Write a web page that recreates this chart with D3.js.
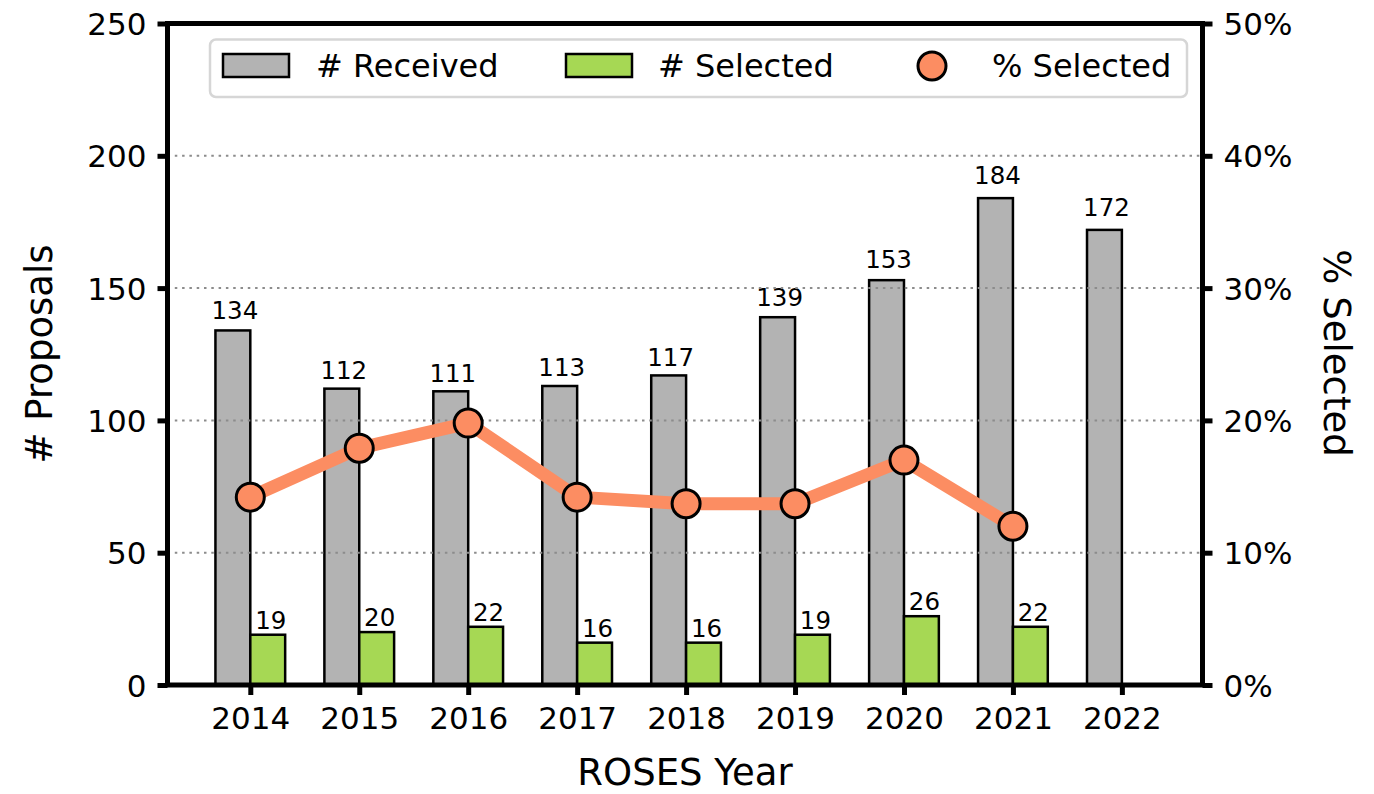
<!DOCTYPE html>
<html>
<head>
<meta charset="utf-8">
<script src="https://cdn.jsdelivr.net/npm/d3@7"></script>
<style>
  html, body { margin: 0; padding: 0; background: #fff; }
  svg { display: block; font-family: "DejaVu Sans", sans-serif; }
</style>
</head>
<body>
<svg id="chart" width="1374" height="794"></svg>
<script>
// ---- data ----
const years = ["2014", "2015", "2016", "2017", "2018", "2019", "2020", "2021", "2022"];
const received = [134, 112, 111, 113, 117, 139, 153, 184, 172];
const selected = [19, 20, 22, 16, 16, 19, 26, 22, null];
const pctSelected = [14.2, 17.9, 19.8, 14.2, 13.7, 13.7, 17.0, 12.0];
const leftTicks = [0, 50, 100, 150, 200, 250];
const rightTicks = [0, 10, 20, 30, 40, 50];
const gridTicks = [50, 100, 150, 200];
const legendLabels = ["# Received", "# Selected", "% Selected"];

// ---- colours ----
const cGrey = "#b3b3b3", cGreen = "#a6d854", cOrange = "#fc8d62";

const svg = d3.select("#chart");
const L = 167.5, R = 1202.5, T = 23.5, B = 685;

const x = d3.scaleLinear().domain([-0.76, 8.74]).range([L, R]);
const y = d3.scaleLinear().domain([0, 250]).range([B, T]);
const yr = d3.scaleLinear().domain([0, 50]).range([B, T]);
const bw = 0.32;

// bars
const g = svg.append("g");
g.selectAll("rect.rec").data(received).join("rect")
  .attr("x", (d, i) => x(i - bw))
  .attr("width", x(bw) - x(0))
  .attr("y", d => y(d))
  .attr("height", d => y(0) - y(d))
  .attr("fill", cGrey).attr("stroke", "#000").attr("stroke-width", 2.5);

g.selectAll("rect.sel").data(selected.map((v, i) => ({v, i})).filter(d => d.v != null)).join("rect")
  .attr("x", d => x(d.i))
  .attr("width", x(bw) - x(0))
  .attr("y", d => y(d.v))
  .attr("height", d => y(0) - y(d.v))
  .attr("fill", cGreen).attr("stroke", "#000").attr("stroke-width", 2.5);

// bar labels
g.selectAll("text.rl").data(received).join("text")
  .attr("x", (d, i) => x(i - bw / 2) + 2)
  .attr("y", d => y(d) - (1.6 + 0.07 * d))
  .attr("text-anchor", "middle").attr("font-size", 24.5).attr("fill", "#000")
  .text(d => d);
g.selectAll("text.sl").data(selected.map((v, i) => ({v, i})).filter(d => d.v != null)).join("text")
  .attr("x", d => x(d.i + bw / 2) + 3)
  .attr("y", d => y(d.v) - 6)
  .attr("text-anchor", "middle").attr("font-size", 24.5).attr("fill", "#000")
  .text(d => d.v);

// grid
svg.append("g").selectAll("line").data(gridTicks).join("line")
  .attr("x1", L).attr("x2", R)
  .attr("y1", d => y(d)).attr("y2", d => y(d))
  .attr("stroke", "#8c8c8c").attr("stroke-width", 2)
  .attr("stroke-dasharray", "2.5,4.8");

// percent line
const line = d3.line().x((d, i) => x(i)).y(d => yr(d));
svg.append("path").datum(pctSelected)
  .attr("d", line).attr("fill", "none")
  .attr("stroke", cOrange).attr("stroke-width", 13).attr("stroke-linejoin", "round");
svg.append("g").selectAll("circle").data(pctSelected).join("circle")
  .attr("cx", (d, i) => x(i)).attr("cy", d => yr(d)).attr("r", 14)
  .attr("fill", cOrange).attr("stroke", "#000").attr("stroke-width", 3);

// axes
function styleAxis(sel) {
  sel.select(".domain").remove();
  sel.selectAll(".tick line").attr("stroke", "#000").attr("stroke-width", 5);
  sel.selectAll(".tick text").attr("font-size", 31).attr("fill", "#000")
     .attr("font-family", "DejaVu Sans, sans-serif");
}
const axL = svg.append("g").attr("transform", `translate(${L},0)`)
  .call(d3.axisLeft(y).tickValues(leftTicks).tickSize(10).tickPadding(11).tickFormat(d3.format("d")));
styleAxis(axL);
axL.selectAll(".tick text").attr("dy", "0.36em");

const axR = svg.append("g").attr("transform", `translate(${R},0)`)
  .call(d3.axisRight(yr).tickValues(rightTicks).tickSize(10).tickPadding(11).tickFormat(d => d + "%"));
styleAxis(axR);
axR.selectAll(".tick text").attr("dy", "0.36em");

const axB = svg.append("g").attr("transform", `translate(0,${B})`)
  .call(d3.axisBottom(x).tickValues(d3.range(years.length)).tickSize(10).tickPadding(12).tickFormat(i => years[i]));
styleAxis(axB);
axB.selectAll(".tick text").attr("dy", "0.71em");

// frame (spines)
svg.append("rect").attr("x", L).attr("y", T).attr("width", R - L).attr("height", B - T)
  .attr("fill", "none").attr("stroke", "#000").attr("stroke-width", 5);

// axis labels
svg.append("text").attr("transform", `translate(52,354) rotate(-90)`)
  .attr("text-anchor", "middle").attr("font-size", 37).attr("fill", "#000").text("# Proposals");
svg.append("text").attr("transform", `translate(1324,353) rotate(90)`)
  .attr("text-anchor", "middle").attr("font-size", 37).attr("fill", "#000").text("% Selected");
svg.append("text").attr("x", (L + R) / 2).attr("y", 785)
  .attr("text-anchor", "middle").attr("font-size", 37).attr("fill", "#000").text("ROSES Year");

// legend
const lg = svg.append("g");
lg.append("rect").attr("x", 210).attr("y", 39.5).attr("width", 977).attr("height", 57.5)
  .attr("rx", 6).attr("fill", "#fff").attr("fill-opacity", 0.85)
  .attr("stroke", "#d6d6d6").attr("stroke-width", 2.5);
const legendItems = [
  {type: "rect", color: cGrey, px: 223, tx: 316},
  {type: "rect", color: cGreen, px: 566, tx: 658},
  {type: "circle", color: cOrange, px: 932, tx: 992}
];
legendItems.forEach((it, i) => {
  if (it.type === "rect") {
    lg.append("rect").attr("x", it.px).attr("y", 54).attr("width", 66).attr("height", 23)
      .attr("fill", it.color).attr("stroke", "#000").attr("stroke-width", 2.5);
  } else {
    lg.append("circle").attr("cx", it.px).attr("cy", 66).attr("r", 14)
      .attr("fill", it.color).attr("stroke", "#000").attr("stroke-width", 3);
  }
  lg.append("text").attr("x", it.tx).attr("y", 77).attr("font-size", 32).attr("fill", "#000")
    .text(legendLabels[i]);
});
</script>
</body>
</html>
